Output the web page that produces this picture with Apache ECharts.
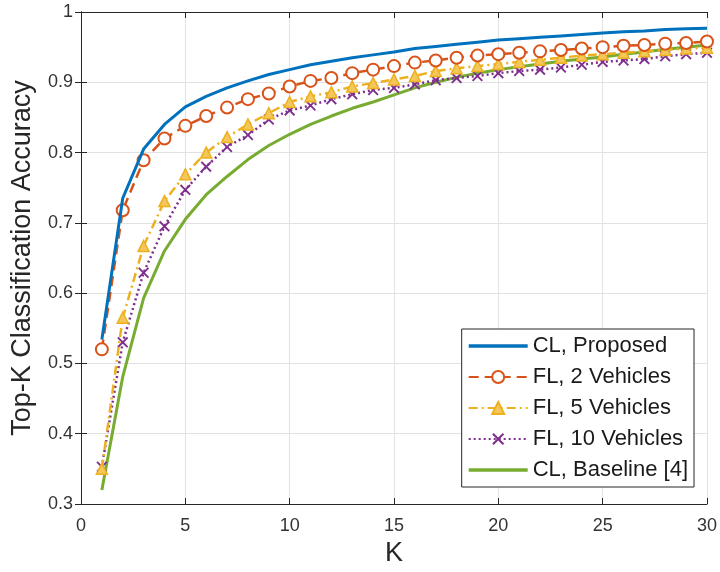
<!DOCTYPE html>
<html><head><meta charset="utf-8">
<script src="https://cdn.jsdelivr.net/npm/echarts@6/dist/echarts.min.js"></script>
<style>html,body{margin:0;padding:0;background:#fff}#c{width:720px;height:572px}</style>
</head><body><div id="c"></div>
<script>
const K = [1,2,3,4,5,6,7,8,9,10,11,12,13,14,15,16,17,18,19,20,21,22,23,24,25,26,27,28,29,30];
const clProposed = [0.534,0.735,0.805,0.840,0.865,0.880,0.892,0.902,0.911,0.918,0.925,0.930,0.935,0.939,0.943,0.948,0.951,0.954,0.957,0.960,0.962,0.964,0.966,0.968,0.970,0.972,0.973,0.975,0.976,0.977];
const fl2 = [0.520,0.718,0.789,0.820,0.838,0.852,0.864,0.876,0.884,0.894,0.902,0.906,0.913,0.918,0.923,0.928,0.931,0.935,0.938,0.940,0.942,0.944,0.946,0.948,0.950,0.952,0.953,0.955,0.956,0.958];
const fl5 = [0.350,0.565,0.667,0.731,0.769,0.800,0.822,0.840,0.856,0.872,0.880,0.886,0.894,0.899,0.904,0.909,0.916,0.920,0.923,0.926,0.929,0.932,0.935,0.938,0.940,0.942,0.944,0.946,0.948,0.949];
const fl10 = [0.353,0.530,0.629,0.695,0.747,0.780,0.808,0.825,0.847,0.860,0.867,0.876,0.883,0.889,0.892,0.897,0.903,0.906,0.909,0.913,0.916,0.918,0.921,0.925,0.929,0.931,0.933,0.937,0.940,0.942];
const clBaseline = [0.320,0.481,0.593,0.660,0.705,0.740,0.766,0.790,0.810,0.826,0.840,0.852,0.863,0.872,0.882,0.892,0.900,0.907,0.913,0.918,0.922,0.926,0.930,0.933,0.936,0.940,0.943,0.947,0.950,0.953];
const seriesNames = ['CL, Proposed','FL, 2 Vehicles','FL, 5 Vehicles','FL, 10 Vehicles','CL, Baseline [4]'];
const xTicks = [0,5,10,15,20,25,30];
const yTicks = [0.3,0.4,0.5,0.6,0.7,0.8,0.9,1];

const pair = arr => K.map((k,i)=>[k,arr[i]]);
const xSym = 'path://M0,1.2 L1.2,0 L5,3.8 L8.8,0 L10,1.2 L6.2,5 L10,8.8 L8.8,10 L5,6.2 L1.2,10 L0,8.8 L3.8,5 Z';
const barIcon = 'path://M0,0 H59 V3.5 H0 Z';
const font = 'Liberation Sans, Arial, sans-serif';
const ax = '#262626';
const chart = echarts.init(document.getElementById('c'), null, {renderer:'canvas'});
chart.setOption({
  animation:false,
  backgroundColor:'#fff',
  grid:{left:81, right:11, top:12, bottom:68},
  xAxis:[{
    type:'value', min:xTicks[0], max:xTicks[xTicks.length-1], interval:5,
    name:'K', nameLocation:'middle', nameGap:33,
    nameTextStyle:{fontSize:27, color:ax, fontFamily:font},
    axisLine:{show:true, lineStyle:{color:ax, width:1}},
    axisTick:{show:true, inside:true, length:6, lineStyle:{color:ax}},
    axisLabel:{fontSize:18, color:'#333', fontFamily:font, margin:13},
    splitLine:{show:true, lineStyle:{color:'#e2e2e2', width:1}}
  },{
    type:'value', min:0, max:30, interval:5, position:'top',
    axisLine:{show:true, lineStyle:{color:ax, width:1}},
    axisTick:{show:true, inside:true, length:6, lineStyle:{color:ax}},
    axisLabel:{show:false}, splitLine:{show:false}
  }],
  yAxis:[{
    type:'value', min:yTicks[0], max:yTicks[yTicks.length-1], interval:0.1,
    name:'Top-K Classification Accuracy', nameLocation:'middle', nameGap:45,
    nameTextStyle:{fontSize:27, color:ax, fontFamily:font},
    axisLine:{show:true, lineStyle:{color:ax, width:1}},
    axisTick:{show:true, inside:true, length:6, lineStyle:{color:ax}},
    axisLabel:{fontSize:18, color:'#333', fontFamily:font, margin:8,
      formatter:v=>String(Math.round(v*10)/10)},
    splitLine:{show:true, lineStyle:{color:'#e2e2e2', width:1}}
  },{
    type:'value', min:0.3, max:1, interval:0.1, position:'right',
    axisLine:{show:true, lineStyle:{color:ax, width:1}},
    axisTick:{show:true, inside:true, length:6, lineStyle:{color:ax}},
    axisLabel:{show:false}, splitLine:{show:false}
  }],
  legend:{
    orient:'vertical', right:26, top:329, align:'left',
    backgroundColor:'#fff', borderColor:ax, borderWidth:1,
    padding:[5,6,5,6], itemWidth:59, itemHeight:15, itemGap:7,
    textStyle:{fontSize:22, color:'#1a1a1a', fontFamily:font, lineHeight:24},
    data:[
      {name:seriesNames[0], icon:barIcon},
      {name:seriesNames[1]},
      {name:seriesNames[2]},
      {name:seriesNames[3]},
      {name:seriesNames[4], icon:barIcon}
    ]
  },
  series:[
    {name:seriesNames[0], type:'line', data:pair(clProposed), showSymbol:false, symbol:'none',
     lineStyle:{color:'#0072BD', width:3}, itemStyle:{color:'#0072BD'}, z:5},
    {name:seriesNames[1], type:'line', data:pair(fl2), symbol:'emptyCircle', symbolSize:12,
     lineStyle:{color:'#D95319', width:2.5, type:[10,6]},
     itemStyle:{color:'#D95319', borderWidth:2.5}, z:4},
    {name:seriesNames[2], type:'line', data:pair(fl5), symbol:'triangle', symbolSize:11,
     lineStyle:{color:'#EDB120', width:2.5, type:[9,4,2,4]},
     itemStyle:{color:'#F3C75A', borderColor:'#EDB120', borderWidth:1.5}, z:3},
    {name:seriesNames[3], type:'line', data:pair(fl10), symbol:xSym, symbolSize:11,
     lineStyle:{color:'#7E2F8E', width:2.5, type:[2,3]},
     itemStyle:{color:'#7E2F8E'}, z:2},
    {name:seriesNames[4], type:'line', data:pair(clBaseline), showSymbol:false, symbol:'none',
     lineStyle:{color:'#77AC30', width:3}, itemStyle:{color:'#77AC30'}, z:1}
  ]
});
</script></body></html>
